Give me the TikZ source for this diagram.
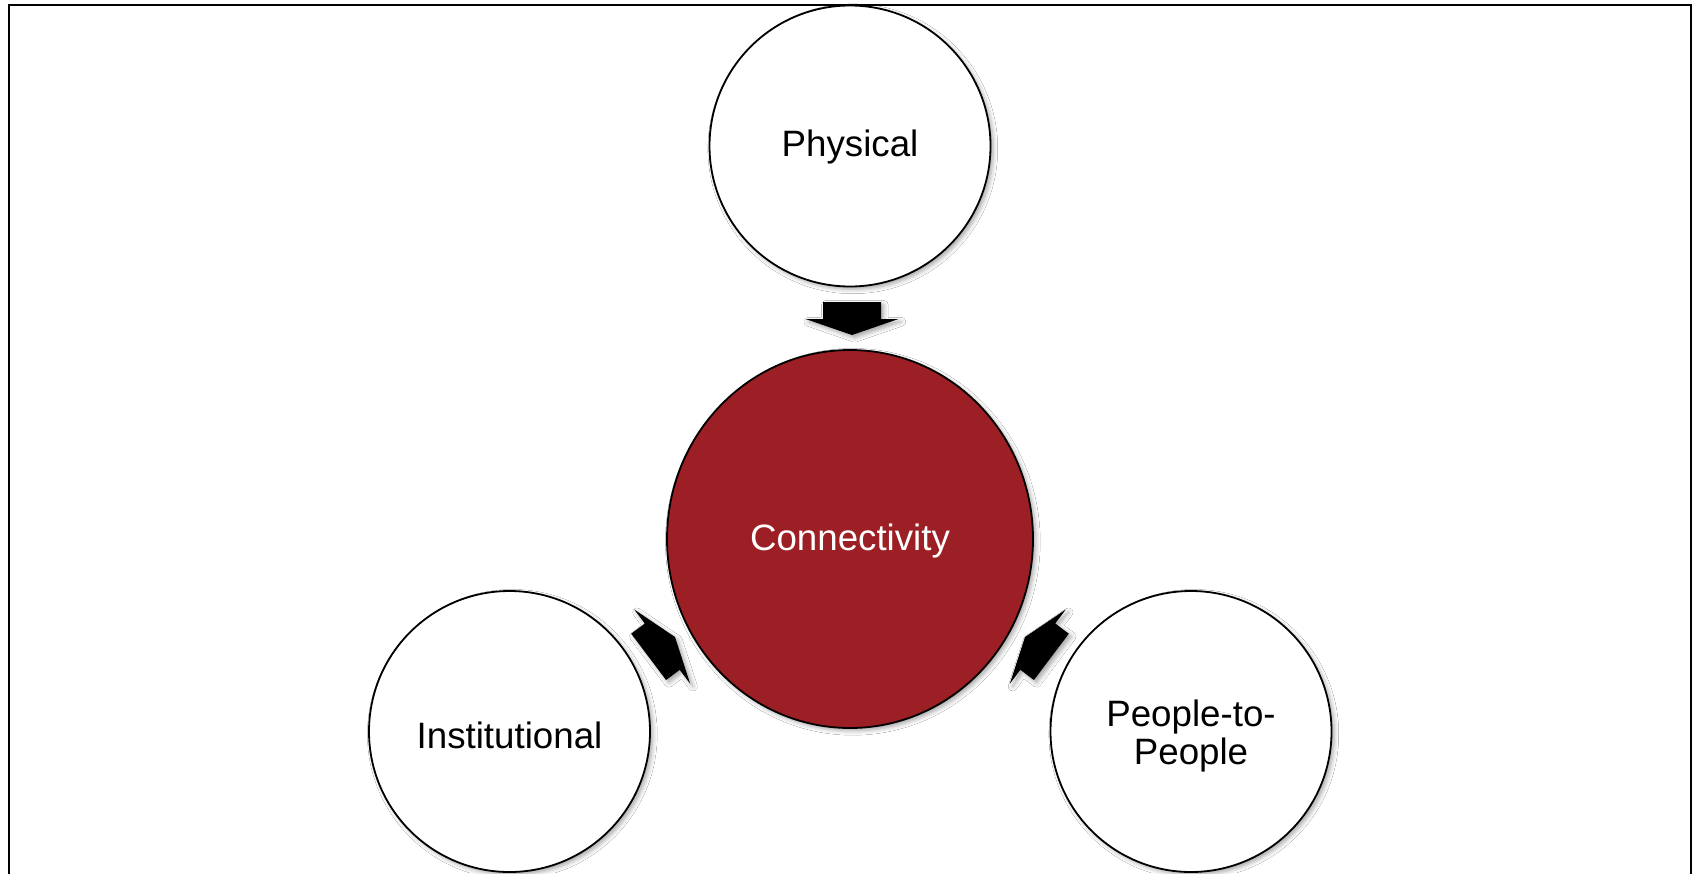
\documentclass[tikz,border=0pt]{standalone}
\usepackage{fontspec}
\setmainfont{Liberation Sans}
\usetikzlibrary{shapes.geometric,shadows.blur}
\definecolor{conred}{RGB}{155,31,36}
\begin{document}
\begin{tikzpicture}[x=0.5pt,y=-0.5pt,
  softshadow/.style={blur shadow={shadow xshift=1.4pt, shadow yshift=-1.4pt, shadow blur radius=2.2pt, shadow opacity=35}},
  lbl/.style={font=\fontsize{18.35}{19.15}\selectfont, align=center, inner sep=0pt},
  outer/.style={circle, draw=black, line width=0.9pt, fill=white, minimum size=140.5pt, inner sep=0pt, softshadow},
  hub/.style={ellipse, draw=black, line width=0.9pt, fill=conred, minimum width=183pt, minimum height=189pt, inner sep=0pt, softshadow},
  blockarrow/.style={fill=black, softshadow},
  frame/.style={draw=black, line width=1.3pt}
]
\useasboundingbox (0,0) rectangle (1696,873);
\fill[white] (0,0) rectangle (1696,873);

% circles
\node[outer] (phys) at (850,146) {};
\node[hub] (conn) at (850,539) {};
\node[outer] (inst) at (509.5,731.5) {};
\node[outer] (p2p) at (1191,731.5) {};

% labels
\node[lbl, anchor=base] (physT) at (850,156.7) {Physical};
\node[lbl, anchor=base, text=white] (connT) at (850,550.7) {Connectivity};
\node[lbl, anchor=base] (instT) at (509.5,748.5) {Institutional};
\node[lbl] (p2pT) at (1191,736.3) {People-to-\\People};

% block arrows (tips point at the hub)
\coordinate (tipTop) at (852,335);
\coordinate (tipL) at (675,637);
\coordinate (tipR) at (1025,637);
\foreach \t/\a in {tipTop/-90, tipL/37, tipR/143}{
  \fill[blockarrow, shift={(\t)}, rotate=\a]
    (0pt,0pt) -- (-8pt,23.25pt) -- (-8pt,14.5pt) -- (-16.5pt,14.5pt)
    -- (-16.5pt,-14.5pt) -- (-8pt,-14.5pt) -- (-8pt,-23.25pt) -- cycle;
}

% frame
\draw[frame] (9,880) -- (9,5) -- (1691,5) -- (1691,880);
\end{tikzpicture}
\end{document}
